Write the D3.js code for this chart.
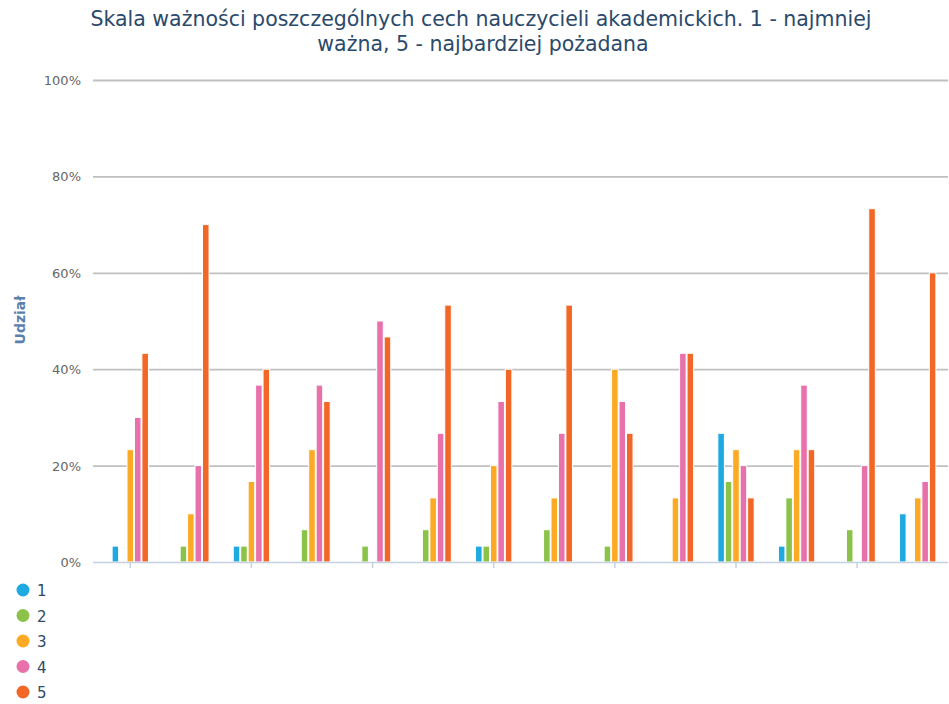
<!DOCTYPE html>
<html lang="pl">
<head>
<meta charset="UTF-8">
<script src="https://cdn.jsdelivr.net/npm/d3@7/dist/d3.min.js"></script>
<style>
  body { margin: 0; background: #fff; }
  text { font-family: "DejaVu Sans", sans-serif; }
</style>
</head>
<body>
<script>
// categories (no labels shown on the axis)
var groups = ["1","2","3","4","5","6","7","8","9","10","11","12","13","14"];
var seriesNames = ["1", "2", "3", "4", "5"];
var seriesColors = ["#1fa9e1", "#8bc34a", "#fca923", "#e871ab", "#f26725"];
var yTicks = [0, 20, 40, 60, 80, 100];

// values in % per category, one array per series
var s1 = [3.3, 0, 3.3, 0, 0, 0, 3.3, 0, 0, 0, 26.7, 3.3, 0, 10];
var s2 = [0, 3.3, 3.3, 6.7, 3.3, 6.7, 3.3, 6.7, 3.3, 0, 16.7, 13.3, 6.7, 0];
var s3 = [23.3, 10, 16.7, 23.3, 0, 13.3, 20, 13.3, 40, 13.3, 23.3, 23.3, 0, 13.3];
var s4 = [30, 20, 36.7, 36.7, 50, 26.7, 33.3, 26.7, 33.3, 43.3, 20, 36.7, 20, 16.7];
var s5 = [43.3, 70, 40, 33.3, 46.7, 53.3, 40, 53.3, 26.7, 43.3, 13.3, 23.3, 73.3, 60];
var allSeries = [s1, s2, s3, s4, s5];

var W = 949, H = 704;
var svg = d3.select("body").append("svg")
    .attr("width", W)
    .attr("height", H);

var x0 = d3.scaleBand()
    .domain(groups)
    .range([100, 948])
    .paddingInner(0.4)
    .paddingOuter(0.2);

var x1 = d3.scaleBand()
    .domain(seriesNames)
    .range([0, x0.bandwidth()])
    .paddingInner(0.12);

var y = d3.scaleLinear()
    .domain([0, 100])
    .range([562, 80]);

// title
svg.append("text")
    .attr("x", 481)
    .attr("y", 26)
    .attr("text-anchor", "middle")
    .style("font-size", "20.5px")
    .style("fill", "#2b4a6b")
    .text("Skala ważności poszczególnych cech nauczycieli akademickich. 1 - najmniej");
svg.append("text")
    .attr("x", 483)
    .attr("y", 51)
    .attr("text-anchor", "middle")
    .style("font-size", "20.5px")
    .style("fill", "#2b4a6b")
    .text("ważna, 5 - najbardziej pożadana");

// grid lines
var grid = svg.append("g")
    .attr("transform", "translate(93,0)")
    .call(d3.axisLeft(y).tickValues(yTicks.slice(1)).tickSize(-855).tickFormat(""));
grid.select(".domain").remove();
grid.selectAll("line").attr("stroke", "#c0c0c0").attr("stroke-width", 1.8);

// y labels
svg.append("g").selectAll("text")
    .data(yTicks)
    .enter().append("text")
    .attr("x", 81)
    .attr("y", function(d) { return y(d) + 5; })
    .attr("text-anchor", "end")
    .style("font-size", "13px")
    .style("fill", "#666")
    .text(function(d) { return d + "%"; });

// y axis title
svg.append("text")
    .attr("transform", "translate(25,320) rotate(-90)")
    .attr("text-anchor", "middle")
    .style("font-size", "14px")
    .style("font-weight", "bold")
    .style("fill", "#5b80ad")
    .text("Udział");

// bars
var gGroups = svg.append("g").selectAll("g")
    .data(groups)
    .enter().append("g")
    .attr("transform", function(d) { return "translate(" + x0(d) + ",0)"; });

gGroups.selectAll("rect")
    .data(function(d, i) {
        return allSeries.map(function(s, k) { return {key: seriesNames[k], value: s[i], color: seriesColors[k]}; });
    })
    .enter().append("rect")
    .filter(function(d) { return d.value > 0; })
    .attr("x", function(d) { return x1(d.key); })
    .attr("y", function(d) { return y(d.value); })
    .attr("width", x1.bandwidth())
    .attr("height", function(d) { return y(0) - y(d.value); })
    .attr("fill", function(d) { return d.color; })
    .attr("stroke", "#fff")
    .attr("stroke-width", 1);

// x axis
var xAxis = svg.append("g")
    .attr("transform", "translate(0,562)")
    .call(d3.axisBottom(x0)
        .tickValues(groups.filter(function(d, i) { return i % 2 === 0; }))
        .tickSize(6)
        .tickFormat(""));
xAxis.select(".domain").remove();
xAxis.selectAll("line").attr("stroke", "#c5d1e0").attr("stroke-width", 1.5);
svg.append("line")
    .attr("x1", 93).attr("x2", 948)
    .attr("y1", y(0) + 0.5).attr("y2", y(0) + 0.5)
    .attr("stroke", "#c5d1e0")
    .attr("stroke-width", 1.6);

// legend
var legend = svg.append("g").selectAll("g")
    .data(seriesNames)
    .enter().append("g")
    .attr("transform", function(d, i) { return "translate(23," + (590 + i * 25.5) + ")"; });
legend.append("circle")
    .attr("r", 6.5)
    .attr("fill", function(d, i) { return seriesColors[i]; });
legend.append("text")
    .attr("x", 14)
    .attr("y", 6)
    .style("font-size", "15px")
    .style("fill", "#2e4a66")
    .text(function(d) { return d; });
</script>
</body>
</html>
